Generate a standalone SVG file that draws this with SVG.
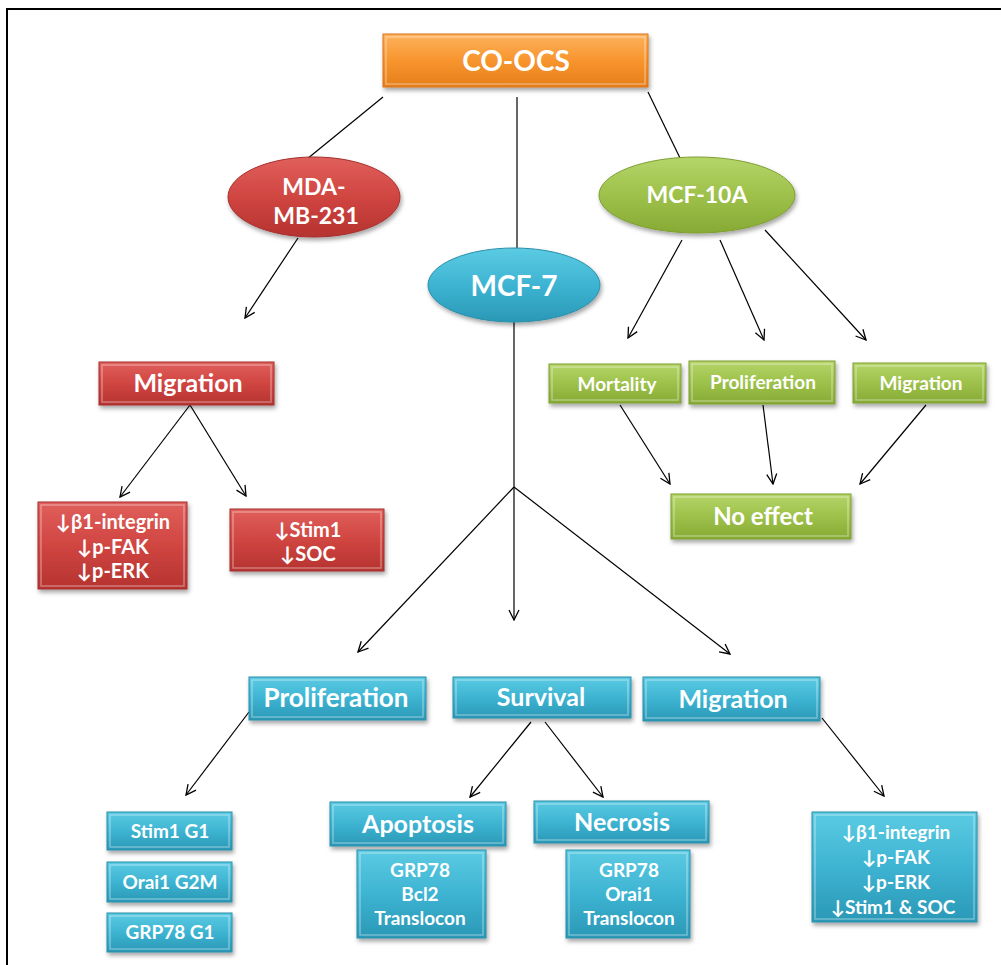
<svg xmlns="http://www.w3.org/2000/svg" width="1001" height="965" viewBox="0 0 1001 965">
<defs>
<linearGradient id="gOr" x1="0" y1="0" x2="0" y2="1"><stop offset="0" stop-color="#FDB25E"/><stop offset="0.5" stop-color="#F8952E"/><stop offset="1" stop-color="#E57E1A"/></linearGradient>
<linearGradient id="gRd" x1="0" y1="0" x2="0" y2="1"><stop offset="0" stop-color="#E0605C"/><stop offset="0.5" stop-color="#D04541"/><stop offset="1" stop-color="#B53330"/></linearGradient>
<linearGradient id="gGr" x1="0" y1="0" x2="0" y2="1"><stop offset="0" stop-color="#B5D56A"/><stop offset="0.5" stop-color="#9DC14A"/><stop offset="1" stop-color="#86AA34"/></linearGradient>
<linearGradient id="gBl" x1="0" y1="0" x2="0" y2="1"><stop offset="0" stop-color="#5CCBE3"/><stop offset="0.5" stop-color="#3DB4D2"/><stop offset="1" stop-color="#2A98B6"/></linearGradient>
<filter id="sh" x="-20%" y="-20%" width="140%" height="150%"><feDropShadow dx="1.5" dy="3" stdDeviation="2" flood-color="#000" flood-opacity="0.35"/></filter>
<marker id="ar" viewBox="0 0 12 12" refX="11" refY="6" markerWidth="12" markerHeight="12" markerUnits="userSpaceOnUse" orient="auto"><path d="M1,1 L11,6 L1,11" fill="none" stroke="#000" stroke-width="1.3"/></marker>
</defs>
<style>
.t{font-family:Lato,"Open Sans","Liberation Sans",sans-serif;font-weight:bold;fill:#fff;text-anchor:middle}
.or{fill:url(#gOr);stroke:#D9731A;stroke-width:1;filter:url(#sh)}
.rd{fill:url(#gRd);stroke:#A52F2C;stroke-width:1;filter:url(#sh)}
.gr{fill:url(#gGr);stroke:#7D9E30;stroke-width:1;filter:url(#sh)}
.bl{fill:url(#gBl);stroke:#2A8EA8;stroke-width:1;filter:url(#sh)}
.hl{fill:none;stroke:#fff;stroke-opacity:0.35;stroke-width:1.5}
.c{stroke:#000;stroke-width:1.2;fill:none}
.a{stroke:#000;stroke-width:1.2;fill:none;marker-end:url(#ar)}
</style>
<rect x="0" y="0" width="1001" height="965" fill="#fff"/>
<rect x="7" y="9" width="1020" height="1000" fill="none" stroke="#000" stroke-width="2"/>

<g id="connectors">
<line class="c" x1="383" y1="97" x2="296" y2="168"/>
<line class="c" x1="517" y1="97" x2="517" y2="250"/>
<line class="c" x1="648" y1="92" x2="680" y2="158"/>
<line class="a" x1="298" y1="238" x2="245" y2="318"/>
<line class="a" x1="190" y1="405" x2="120" y2="497"/>
<line class="a" x1="190" y1="405" x2="246" y2="496"/>
<line class="a" x1="682" y1="240" x2="628" y2="338"/>
<line class="a" x1="720" y1="240" x2="764" y2="340"/>
<line class="a" x1="765" y1="230" x2="866" y2="340"/>
<line class="a" x1="620" y1="405" x2="670" y2="484"/>
<line class="a" x1="763" y1="405" x2="773" y2="484"/>
<line class="a" x1="926" y1="405" x2="860" y2="484"/>
<line class="c" x1="514" y1="322" x2="514" y2="487"/>
<line class="a" x1="514" y1="487" x2="358" y2="652"/>
<line class="a" x1="514" y1="487" x2="514" y2="620"/>
<line class="a" x1="514" y1="487" x2="730" y2="654"/>
<line class="a" x1="249" y1="712" x2="186" y2="795"/>
<line class="a" x1="531" y1="722" x2="470" y2="797"/>
<line class="a" x1="545" y1="722" x2="603" y2="797"/>
<line class="a" x1="822" y1="718" x2="884" y2="796"/>
</g>

<g id="co-ocs"><rect class="or" x="383" y="34" width="265" height="53"/><rect class="hl" x="386" y="37" width="259" height="47"/><text class="t" x="516" y="71" font-size="28">CO-OCS</text></g>

<g id="mda"><ellipse class="rd" cx="314" cy="197" rx="86" ry="40"/><text class="t" x="314" y="195" font-size="23">MDA-</text><text class="t" x="316" y="224" font-size="23">MB-231</text></g>
<g id="mcf10a"><ellipse class="gr" cx="697" cy="195" rx="98" ry="38"/><text class="t" x="697" y="203" font-size="23">MCF-10A</text></g>
<g id="mcf7"><ellipse class="bl" cx="514" cy="285" rx="86" ry="37"/><text class="t" x="514" y="296" font-size="28">MCF-7</text></g>

<g id="mig-red"><rect class="rd" x="99" y="362" width="175" height="43"/><rect class="hl" x="102" y="365" width="169" height="37"/><text class="t" x="188" y="392" font-size="25">Migration</text></g>
<g id="red-box1"><rect class="rd" x="38" y="502" width="149" height="87"/><rect class="hl" x="41" y="505" width="143" height="81"/><text class="t" x="113" y="529" font-size="20">↓β1-integrin</text><text class="t" x="113" y="554" font-size="20">↓p-FAK</text><text class="t" x="113" y="578" font-size="20">↓p-ERK</text></g>
<g id="red-box2"><rect class="rd" x="230" y="509" width="154" height="62"/><rect class="hl" x="233" y="512" width="148" height="56"/><text class="t" x="308" y="537" font-size="20">↓Stim1</text><text class="t" x="308" y="561" font-size="20">↓SOC</text></g>

<g id="g-mort"><rect class="gr" x="549" y="364" width="132" height="39"/><rect class="hl" x="552" y="367" width="126" height="33"/><text class="t" x="617" y="391" font-size="19">Mortality</text></g>
<g id="g-prol"><rect class="gr" x="689" y="361" width="146" height="43"/><rect class="hl" x="692" y="364" width="140" height="37"/><text class="t" x="763" y="389" font-size="19">Proliferation</text></g>
<g id="g-mig"><rect class="gr" x="853" y="363" width="133" height="40"/><rect class="hl" x="856" y="366" width="127" height="34"/><text class="t" x="921" y="390" font-size="19">Migration</text></g>
<g id="no-effect"><rect class="gr" x="671" y="494" width="180" height="45"/><rect class="hl" x="674" y="497" width="174" height="39"/><text class="t" x="763" y="525" font-size="24">No effect</text></g>

<g id="b-prol"><rect class="bl" x="249" y="677" width="177" height="43"/><rect class="hl" x="252" y="680" width="171" height="37"/><text class="t" x="336" y="707" font-size="26">Proliferation</text></g>
<g id="b-surv"><rect class="bl" x="453" y="677" width="178" height="41"/><rect class="hl" x="456" y="680" width="172" height="35"/><text class="t" x="541" y="706" font-size="25">Survival</text></g>
<g id="b-mig"><rect class="bl" x="643" y="677" width="177" height="44"/><rect class="hl" x="646" y="680" width="171" height="38"/><text class="t" x="733" y="708" font-size="25">Migration</text></g>

<g id="stim1g1"><rect class="bl" x="107" y="812" width="125" height="38"/><rect class="hl" x="110" y="815" width="119" height="32"/><text class="t" x="170" y="838" font-size="19">Stim1 G1</text></g>
<g id="orai1g2m"><rect class="bl" x="107" y="862" width="125" height="40"/><rect class="hl" x="110" y="865" width="119" height="34"/><text class="t" x="170" y="889" font-size="19">Orai1 G2M</text></g>
<g id="grp78g1"><rect class="bl" x="107" y="913" width="125" height="39"/><rect class="hl" x="110" y="916" width="119" height="33"/><text class="t" x="170" y="939" font-size="19">GRP78 G1</text></g>

<g id="apoptosis"><rect class="bl" x="330" y="802" width="176" height="44"/><rect class="hl" x="333" y="805" width="170" height="38"/><text class="t" x="418" y="833" font-size="25">Apoptosis</text></g>
<g id="apo-box"><rect class="bl" x="357" y="850" width="129" height="88"/><rect class="hl" x="360" y="853" width="123" height="82"/><text class="t" x="420" y="877" font-size="19">GRP78</text><text class="t" x="420" y="901" font-size="19">Bcl2</text><text class="t" x="420" y="925" font-size="19">Translocon</text></g>
<g id="necrosis"><rect class="bl" x="534" y="801" width="175" height="42"/><rect class="hl" x="537" y="804" width="169" height="36"/><text class="t" x="622" y="831" font-size="25">Necrosis</text></g>
<g id="nec-box"><rect class="bl" x="566" y="850" width="124" height="88"/><rect class="hl" x="569" y="853" width="118" height="82"/><text class="t" x="629" y="877" font-size="19">GRP78</text><text class="t" x="629" y="901" font-size="19">Orai1</text><text class="t" x="629" y="925" font-size="19">Translocon</text></g>

<g id="b-mig-box"><rect class="bl" x="812" y="812" width="165" height="110"/><rect class="hl" x="815" y="815" width="159" height="104"/><text class="t" x="896" y="839" font-size="19">↓β1-integrin</text><text class="t" x="896" y="864" font-size="19">↓p-FAK</text><text class="t" x="896" y="889" font-size="19">↓p-ERK</text><text class="t" x="893" y="914" font-size="19">↓Stim1 &amp; SOC</text></g>
</svg>
